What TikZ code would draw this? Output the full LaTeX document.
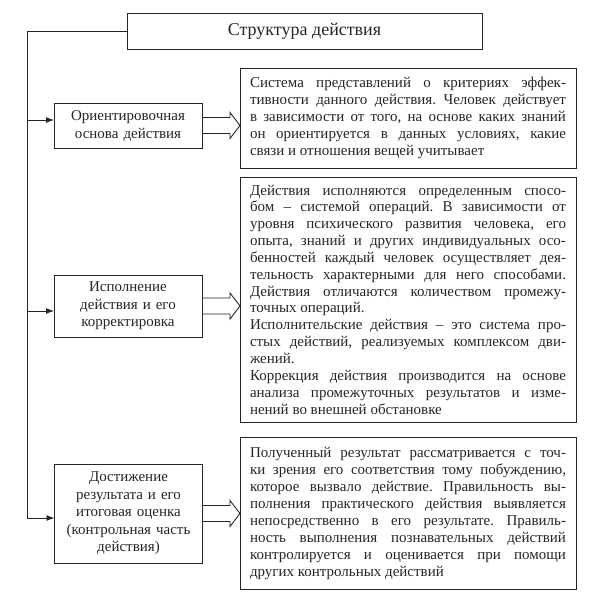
\documentclass[tikz,border=0pt]{standalone}
\usepackage{fontspec}
\setmainfont{Liberation Serif}
\usetikzlibrary{calc,arrows.meta}
\definecolor{ink}{HTML}{262626}
\newcommand\JL[1]{{\parfillskip=0pt\relax #1\par}}
\newcommand\LL[1]{{\parfillskip=0pt plus 1fil\relax #1\par}}
\newcommand\harrow[2]{%
  \draw[hollowarr] ($(#1.east)+(0,-8)$) -- ($(#1.east -| #2.west)+(-10,-8)$)
    -- ($(#1.east -| #2.west)+(-10,-13)$) -- (#1.east -| #2.west)
    -- ($(#1.east -| #2.west)+(-10,13)$) -- ($(#1.east -| #2.west)+(-10,8)$)
    -- ($(#1.east)+(0,8)$);}
\begin{document}
\frenchspacing
\hyphenpenalty=10000
\tolerance=10000
\begin{tikzpicture}[x=1pt,y=-1pt,
  every node/.style={inner sep=0pt,outer sep=0pt,text=ink},
  box/.style={draw=ink,line width=0.9pt},
  titlebox/.style={box,minimum width=355pt,minimum height=36pt,font=\fontsize{18}{21}\selectfont},
  leftbox/.style={box,minimum width=148pt,align=center,text width=144pt},
  rightbox/.style={box,text width=316pt,inner xsep=10pt,align=justify,
    execute at begin node={\parindent=0pt\frenchspacing\hyphenpenalty=10000\tolerance=10000\emergencystretch=20pt},
    font=\fontsize{15}{17}\selectfont},
  hollowarr/.style={draw=ink,line width=0.9pt,line join=miter},
  conn/.style={draw=ink,line width=0.9pt},
  arr/.style={conn,-{Latex[length=8pt,width=6pt]}}]
\useasboundingbox (0,0) rectangle (600,607);
\fill[white] (0,0) rectangle (600,607);

\node[titlebox] (title) at (304.5,31) {Структура действия};

\node[leftbox,minimum height=45pt,font=\fontsize{15}{18}\selectfont] (b1) at (128,125.5)
  {Ориентировочная\\основа действия};
\node[leftbox,minimum height=62pt,font=\fontsize{15}{17.5}\selectfont] (b2) at (128,306)
  {Исполнение\\действия и его\\корректировка};
\node[leftbox,minimum height=99pt,font=\fontsize{15}{17.5}\selectfont] (b3) at (128.5,513.5)
  {Достижение\\результата и его\\итоговая оценка\\(контрольная часть\\действия)};

\node[rightbox,minimum height=100pt] (r1) at (408,118) {%
\JL{Система представлений о критериях эффек-}
\JL{тивности данного действия. Человек действует}
\JL{в зависимости от того, на основе каких знаний}
\JL{он ориентируется в данных условиях, какие}
\LL{связи и отношения вещей учитывает}};

\node[rightbox,minimum height=245pt,font=\fontsize{15}{16.85}\selectfont] (r2) at (408,299.5) {%
\JL{Действия исполняются определенным спосо-}
\JL{бом – системой операций. В зависимости от}
\JL{уровня психического развития человека, его}
\JL{опыта, знаний и других индивидуальных осо-}
\JL{бенностей каждый человек осуществляет дея-}
\JL{тельность характерными для него способами.}
\JL{Действия отличаются количеством промежу-}
\LL{точных операций.}
\JL{Исполнительские действия – это система про-}
\JL{стых действий, реализуемых комплексом дви-}
\LL{жений.}
\JL{Коррекция действия производится на основе}
\JL{анализа промежуточных результатов и изме-}
\LL{нений во внешней обстановке}};

\node[rightbox,minimum height=152pt] (r3) at (408,513) {%
\JL{Полученный результат рассматривается с точ-}
\JL{ки зрения его соответствия тому побуждению,}
\JL{которое вызвало действие. Правильность вы-}
\JL{полнения практического действия выявляется}
\JL{непосредственно в его результате. Правиль-}
\JL{ность выполнения познавательных действий}
\JL{контролируется и оценивается при помощи}
\LL{других контрольных действий}};

\coordinate (top) at (27,31);
\path ([yshift=5.5pt]b1.west) coordinate (a1)
      ([yshift=-5pt]b2.west) coordinate (a2)
      ([yshift=-4.5pt]b3.west) coordinate (a3);
\draw[conn] (title.west) -- (top) -- (top |- a3);
\draw[arr] (top |- a1) -- (a1);
\draw[arr] (top |- a2) -- (a2);
\draw[arr] (top |- a3) -- (a3);

\harrow{b1}{r1}
\harrow{b2}{r2}
\harrow{b3}{r3}
\end{tikzpicture}
\end{document}
